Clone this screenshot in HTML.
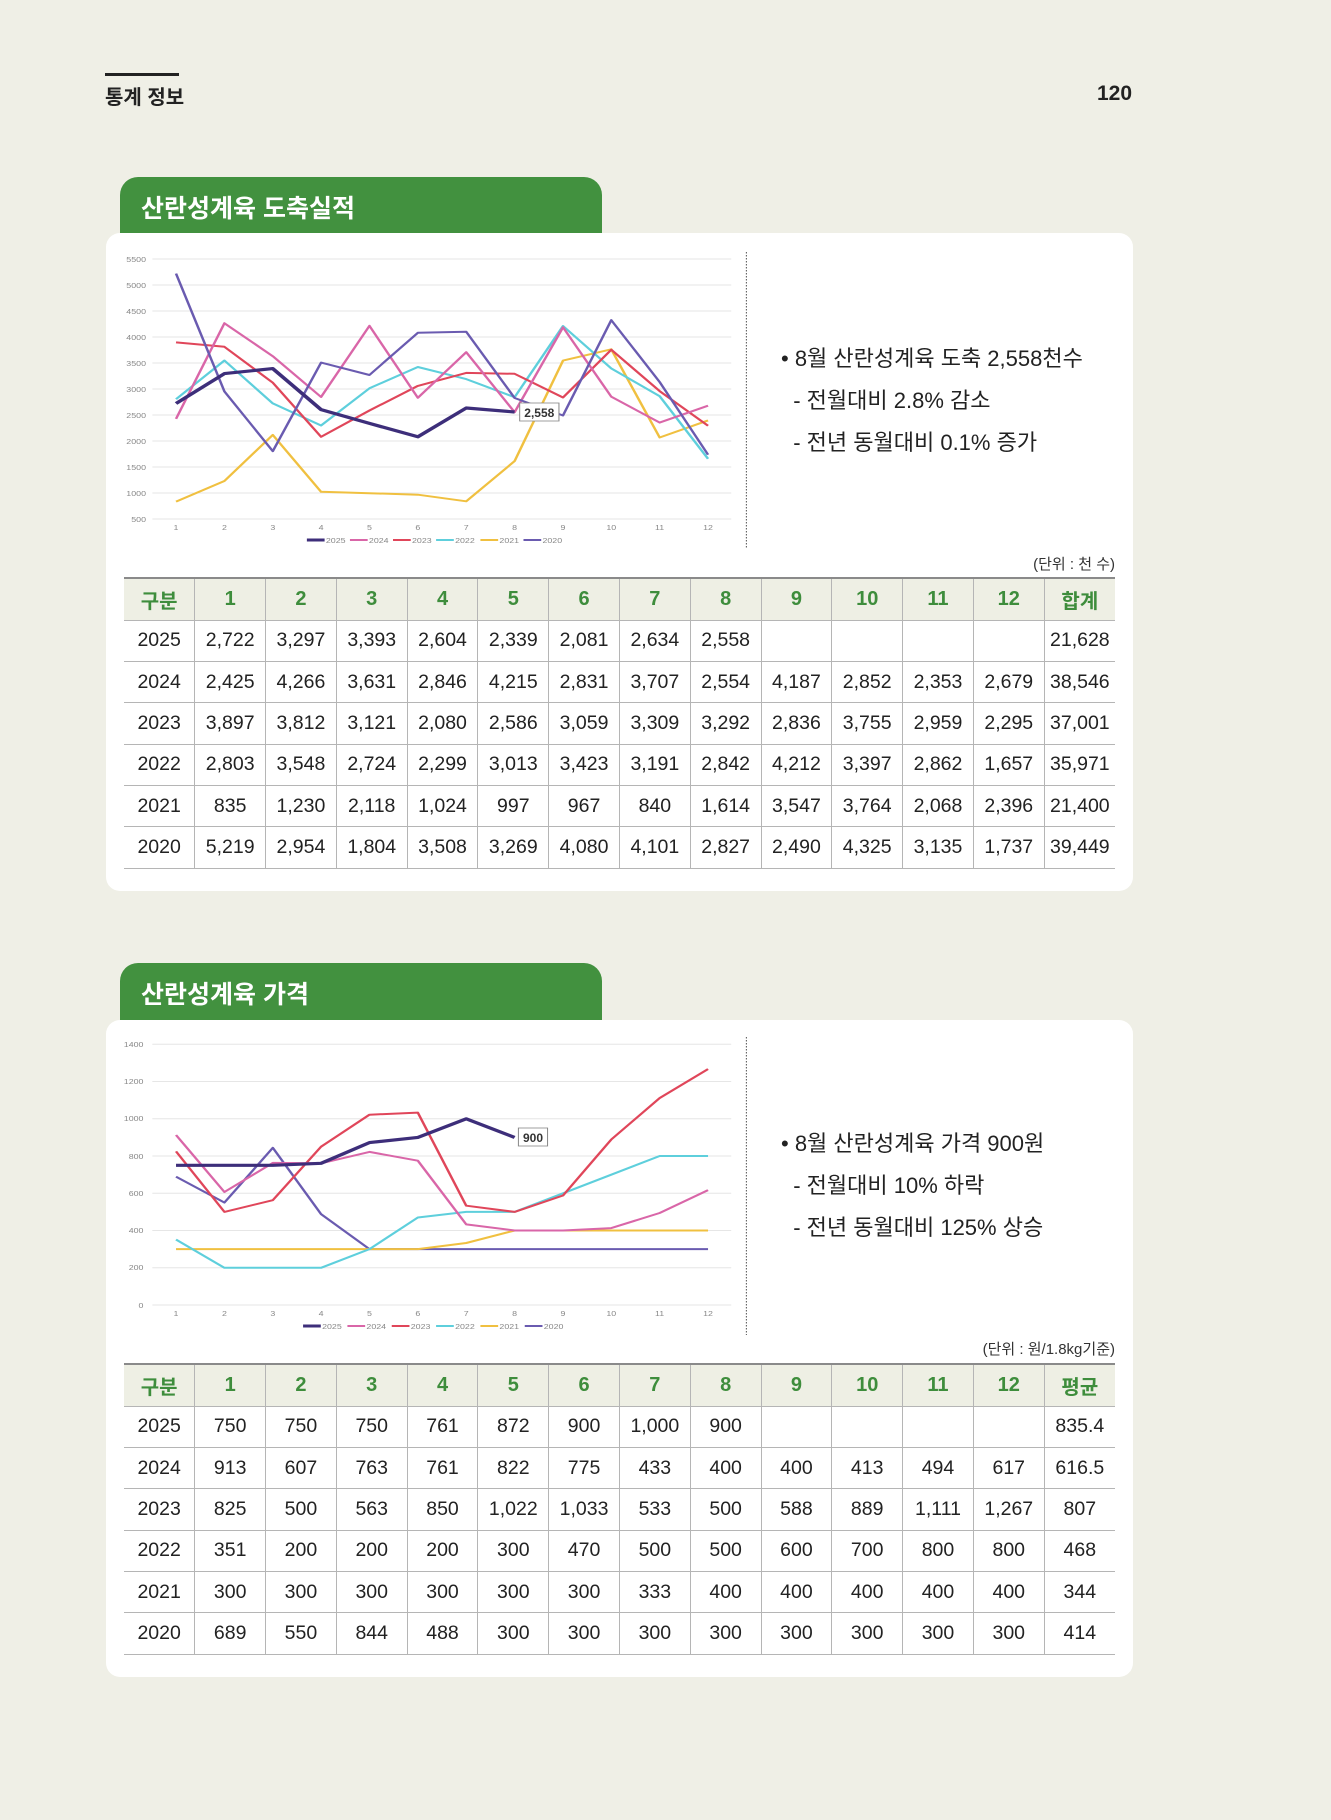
<!DOCTYPE html>
<html><head><meta charset="utf-8"><style>
*{margin:0;padding:0;box-sizing:border-box}
body{width:1331px;height:1820px;background:#efefe6;font-family:"Liberation Sans","Noto Sans CJK KR",sans-serif;position:relative;overflow:hidden;color:#222}
.abs{position:absolute}
.tab{position:absolute;left:120px;width:482px;height:60px;background:#42913f;border-radius:18px 18px 0 0;color:#fff;font-weight:bold;font-size:25px;padding:12px 0 0 21px}
.card{position:absolute;left:106px;width:1027px;background:#fff;border-radius:14px}
.bul{position:absolute;left:781px;font-size:22px;color:#222;line-height:42px}
table{position:absolute;left:124px;width:991px;border-collapse:collapse;table-layout:fixed}
td,th{text-align:center;font-size:19.5px;color:#222;border:1px solid #b5b5b5;font-weight:normal;padding:0}
th{background:#eeefe4;color:#3e8d3c;font-weight:bold;font-size:20px;height:42px;border-top:2px solid #8a8a8a}
td{height:41.4px}
tr td:first-child,tr th:first-child{border-left:none}
tr td:last-child,tr th:last-child{border-right:none}
.unit{position:absolute;right:216px;font-size:15px;color:#333}
</style></head><body>
<div class="abs" style="left:105px;top:73px;width:74px;height:3px;background:#222"></div>
<div class="abs" style="left:105px;top:81px;font-size:20px;font-weight:bold">통계 정보</div>
<div class="abs" style="left:1097px;top:82px;font-size:21px;font-weight:bold">120</div>

<div class="tab" style="top:177px">산란성계육 도축실적</div>
<div class="card" style="top:233px;height:658px"></div>
<div class="tab" style="top:963px">산란성계육 가격</div>
<div class="card" style="top:1020px;height:657px"></div>

<svg class="abs" style="left:0;top:0" width="1331" height="1820">
<g transform="matrix(1.2667 0 0 1 -28.8 0)">
<g stroke="#e6e6e6" stroke-width="1">
<line x1="143" x2="600" y1="259" y2="259"/><line x1="143" x2="600" y1="285" y2="285"/><line x1="143" x2="600" y1="311" y2="311"/><line x1="143" x2="600" y1="337" y2="337"/><line x1="143" x2="600" y1="363" y2="363"/><line x1="143" x2="600" y1="389" y2="389"/><line x1="143" x2="600" y1="415" y2="415"/><line x1="143" x2="600" y1="441" y2="441"/><line x1="143" x2="600" y1="467" y2="467"/><line x1="143" x2="600" y1="493" y2="493"/><line x1="143" x2="600" y1="519" y2="519"/>
</g>
<g font-size="7" fill="#888" text-anchor="end">
<text x="138" y="262">5500</text><text x="138" y="288">5000</text><text x="138" y="314">4500</text><text x="138" y="340">4000</text><text x="138" y="366">3500</text><text x="138" y="392">3000</text><text x="138" y="418">2500</text><text x="138" y="444">2000</text><text x="138" y="470">1500</text><text x="138" y="496">1000</text><text x="138" y="522">500</text>
</g>
<g font-size="7" fill="#888" text-anchor="middle">
<text x="161.7" y="530">1</text><text x="199.9" y="530">2</text><text x="238.1" y="530">3</text><text x="276.2" y="530">4</text><text x="314.4" y="530">5</text><text x="352.6" y="530">6</text><text x="390.8" y="530">7</text><text x="429" y="530">8</text><text x="467.2" y="530">9</text><text x="505.3" y="530">10</text><text x="543.5" y="530">11</text><text x="581.7" y="530">12</text>
</g>
<line x1="612" x2="612" y1="252" y2="548" stroke="#666" stroke-width="0.9" stroke-dasharray="1.5,1.5"/>
<g fill="none" stroke-width="2" stroke-linejoin="round">
<polyline stroke="#f0c040" points="161.7,501.6 199.9,481 238.1,434.9 276.2,491.8 314.4,493.2 352.6,494.7 390.8,501.3 429,461.1 467.2,360.6 505.3,349.3 543.5,437.5 581.7,420.4"/>
<polyline stroke="#5ecfdc" points="161.7,399.2 199.9,360.5 238.1,403.4 276.2,425.5 314.4,388.3 352.6,367 390.8,379.1 429,397.2 467.2,326 505.3,368.4 543.5,396.2 581.7,458.8"/>
<polyline stroke="#e0465a" points="161.7,342.4 199.9,346.8 238.1,382.7 276.2,436.8 314.4,410.5 352.6,385.9 390.8,372.9 429,373.8 467.2,397.5 505.3,349.7 543.5,391.1 581.7,425.7"/>
<polyline stroke="#d966a8" points="161.7,418.9 199.9,323.2 238.1,356.2 276.2,397 314.4,325.8 352.6,397.8 390.8,352.2 429,412.2 467.2,327.3 505.3,396.7 543.5,422.6 581.7,405.7"/>
<polyline stroke="#6a5bb0" points="161.7,273.6 199.9,391.4 238.1,451.2 276.2,362.6 314.4,375 352.6,332.8 390.8,331.7 429,398 467.2,415.5 505.3,320.1 543.5,382 581.7,454.7"/>
<polyline stroke="#3d2e7a" stroke-width="3.2" points="161.7,403.5 199.9,373.6 238.1,368.6 276.2,409.6 314.4,423.4 352.6,436.8 390.8,408 429,412"/>
</g>
<rect x="433" y="403" width="31" height="18" fill="#fff" stroke="#888" stroke-width="0.8"/>
<g font-size="7" fill="#888">
<line x1="265" x2="279" y1="540" y2="540" stroke="#3d2e7a" stroke-width="3"/><text x="280" y="543">2025</text>
<line x1="299" x2="313" y1="540" y2="540" stroke="#d966a8" stroke-width="2"/><text x="314" y="543">2024</text>
<line x1="333" x2="347" y1="540" y2="540" stroke="#e0465a" stroke-width="2"/><text x="348" y="543">2023</text>
<line x1="367" x2="381" y1="540" y2="540" stroke="#5ecfdc" stroke-width="2"/><text x="382" y="543">2022</text>
<line x1="402" x2="416" y1="540" y2="540" stroke="#f0c040" stroke-width="2"/><text x="417" y="543">2021</text>
<line x1="436" x2="450" y1="540" y2="540" stroke="#6a5bb0" stroke-width="2"/><text x="451" y="543">2020</text>
</g>

<g stroke="#e6e6e6" stroke-width="1">
<line x1="143" x2="600" y1="1044.3" y2="1044.3"/><line x1="143" x2="600" y1="1081.5" y2="1081.5"/><line x1="143" x2="600" y1="1118.8" y2="1118.8"/><line x1="143" x2="600" y1="1156" y2="1156"/><line x1="143" x2="600" y1="1193.3" y2="1193.3"/><line x1="143" x2="600" y1="1230.5" y2="1230.5"/><line x1="143" x2="600" y1="1267.8" y2="1267.8"/><line x1="143" x2="600" y1="1305" y2="1305"/>
</g>
<g font-size="7" fill="#888" text-anchor="end">
<text x="136" y="1047">1400</text><text x="136" y="1084">1200</text><text x="136" y="1121">1000</text><text x="136" y="1159">800</text><text x="136" y="1196">600</text><text x="136" y="1233">400</text><text x="136" y="1270">200</text><text x="136" y="1308">0</text>
</g>
<g font-size="7" fill="#888" text-anchor="middle">
<text x="161.7" y="1316">1</text><text x="199.9" y="1316">2</text><text x="238.1" y="1316">3</text><text x="276.2" y="1316">4</text><text x="314.4" y="1316">5</text><text x="352.6" y="1316">6</text><text x="390.8" y="1316">7</text><text x="429" y="1316">8</text><text x="467.2" y="1316">9</text><text x="505.3" y="1316">10</text><text x="543.5" y="1316">11</text><text x="581.7" y="1316">12</text>
</g>
<line x1="612" x2="612" y1="1037" y2="1335" stroke="#666" stroke-width="0.9" stroke-dasharray="1.5,1.5"/>
<g fill="none" stroke-width="2" stroke-linejoin="round">
<polyline stroke="#6a5bb0" points="161.7,1176.7 199.9,1202.6 238.1,1147.8 276.2,1214.1 314.4,1249.1 352.6,1249.1 390.8,1249.1 429,1249.1 467.2,1249.1 505.3,1249.1 543.5,1249.1 581.7,1249.1"/>
<polyline stroke="#f0c040" points="161.7,1249.1 199.9,1249.1 238.1,1249.1 276.2,1249.1 314.4,1249.1 352.6,1249.1 390.8,1243 429,1230.5 467.2,1230.5 505.3,1230.5 543.5,1230.5 581.7,1230.5"/>
<polyline stroke="#5ecfdc" points="161.7,1239.6 199.9,1267.8 238.1,1267.8 276.2,1267.8 314.4,1249.1 352.6,1217.5 390.8,1211.9 429,1211.9 467.2,1193.3 505.3,1174.7 543.5,1156 581.7,1156"/>
<polyline stroke="#e0465a" points="161.7,1151.4 199.9,1211.9 238.1,1200.2 276.2,1146.7 314.4,1114.7 352.6,1112.6 390.8,1205.7 429,1211.9 467.2,1195.5 505.3,1139.5 543.5,1098.1 581.7,1069.1"/>
<polyline stroke="#d966a8" points="161.7,1135 199.9,1192 238.1,1162.9 276.2,1163.3 314.4,1151.9 352.6,1160.7 390.8,1224.4 429,1230.5 467.2,1230.5 505.3,1228.1 543.5,1213 581.7,1190.1"/>
<polyline stroke="#3d2e7a" stroke-width="3.2" points="161.7,1165.3 199.9,1165.3 238.1,1165.3 276.2,1163.3 314.4,1142.6 352.6,1137.4 390.8,1118.8 429,1137.4"/>
</g>
<rect x="432" y="1128" width="23" height="18" fill="#fff" stroke="#888" stroke-width="0.8"/>
<g font-size="7" fill="#888">
<line x1="262" x2="276" y1="1326" y2="1326" stroke="#3d2e7a" stroke-width="3"/><text x="277" y="1329">2025</text>
<line x1="297" x2="311" y1="1326" y2="1326" stroke="#d966a8" stroke-width="2"/><text x="312" y="1329">2024</text>
<line x1="332" x2="346" y1="1326" y2="1326" stroke="#e0465a" stroke-width="2"/><text x="347" y="1329">2023</text>
<line x1="367" x2="381" y1="1326" y2="1326" stroke="#5ecfdc" stroke-width="2"/><text x="382" y="1329">2022</text>
<line x1="402" x2="416" y1="1326" y2="1326" stroke="#f0c040" stroke-width="2"/><text x="417" y="1329">2021</text>
<line x1="437" x2="451" y1="1326" y2="1326" stroke="#6a5bb0" stroke-width="2"/><text x="452" y="1329">2020</text>
</g>
</g>
<text x="539.3" y="417" font-size="12" font-weight="bold" text-anchor="middle" fill="#333">2,558</text>
<text x="533" y="1142" font-size="12" font-weight="bold" text-anchor="middle" fill="#333">900</text>
</svg>

<div class="bul" style="top:338px">• 8월 산란성계육 도축 2,558천수<br>&nbsp;&nbsp;- 전월대비 2.8% 감소<br>&nbsp;&nbsp;- 전년 동월대비 0.1% 증가</div>
<div class="unit" style="top:553px">(단위 : 천 수)</div>
<table style="top:577px">
<tr><th>구분</th><th>1</th><th>2</th><th>3</th><th>4</th><th>5</th><th>6</th><th>7</th><th>8</th><th>9</th><th>10</th><th>11</th><th>12</th><th>합계</th></tr>
<tr><td>2025</td><td>2,722</td><td>3,297</td><td>3,393</td><td>2,604</td><td>2,339</td><td>2,081</td><td>2,634</td><td>2,558</td><td></td><td></td><td></td><td></td><td>21,628</td></tr>
<tr><td>2024</td><td>2,425</td><td>4,266</td><td>3,631</td><td>2,846</td><td>4,215</td><td>2,831</td><td>3,707</td><td>2,554</td><td>4,187</td><td>2,852</td><td>2,353</td><td>2,679</td><td>38,546</td></tr>
<tr><td>2023</td><td>3,897</td><td>3,812</td><td>3,121</td><td>2,080</td><td>2,586</td><td>3,059</td><td>3,309</td><td>3,292</td><td>2,836</td><td>3,755</td><td>2,959</td><td>2,295</td><td>37,001</td></tr>
<tr><td>2022</td><td>2,803</td><td>3,548</td><td>2,724</td><td>2,299</td><td>3,013</td><td>3,423</td><td>3,191</td><td>2,842</td><td>4,212</td><td>3,397</td><td>2,862</td><td>1,657</td><td>35,971</td></tr>
<tr><td>2021</td><td>835</td><td>1,230</td><td>2,118</td><td>1,024</td><td>997</td><td>967</td><td>840</td><td>1,614</td><td>3,547</td><td>3,764</td><td>2,068</td><td>2,396</td><td>21,400</td></tr>
<tr><td>2020</td><td>5,219</td><td>2,954</td><td>1,804</td><td>3,508</td><td>3,269</td><td>4,080</td><td>4,101</td><td>2,827</td><td>2,490</td><td>4,325</td><td>3,135</td><td>1,737</td><td>39,449</td></tr>
</table>

<div class="bul" style="top:1123px">• 8월 산란성계육 가격 900원<br>&nbsp;&nbsp;- 전월대비 10% 하락<br>&nbsp;&nbsp;- 전년 동월대비 125% 상승</div>
<div class="unit" style="top:1338px">(단위 : 원/1.8kg기준)</div>
<table style="top:1363px">
<tr><th>구분</th><th>1</th><th>2</th><th>3</th><th>4</th><th>5</th><th>6</th><th>7</th><th>8</th><th>9</th><th>10</th><th>11</th><th>12</th><th>평균</th></tr>
<tr><td>2025</td><td>750</td><td>750</td><td>750</td><td>761</td><td>872</td><td>900</td><td>1,000</td><td>900</td><td></td><td></td><td></td><td></td><td>835.4</td></tr>
<tr><td>2024</td><td>913</td><td>607</td><td>763</td><td>761</td><td>822</td><td>775</td><td>433</td><td>400</td><td>400</td><td>413</td><td>494</td><td>617</td><td>616.5</td></tr>
<tr><td>2023</td><td>825</td><td>500</td><td>563</td><td>850</td><td>1,022</td><td>1,033</td><td>533</td><td>500</td><td>588</td><td>889</td><td>1,111</td><td>1,267</td><td>807</td></tr>
<tr><td>2022</td><td>351</td><td>200</td><td>200</td><td>200</td><td>300</td><td>470</td><td>500</td><td>500</td><td>600</td><td>700</td><td>800</td><td>800</td><td>468</td></tr>
<tr><td>2021</td><td>300</td><td>300</td><td>300</td><td>300</td><td>300</td><td>300</td><td>333</td><td>400</td><td>400</td><td>400</td><td>400</td><td>400</td><td>344</td></tr>
<tr><td>2020</td><td>689</td><td>550</td><td>844</td><td>488</td><td>300</td><td>300</td><td>300</td><td>300</td><td>300</td><td>300</td><td>300</td><td>300</td><td>414</td></tr>
</table>
</body></html>
